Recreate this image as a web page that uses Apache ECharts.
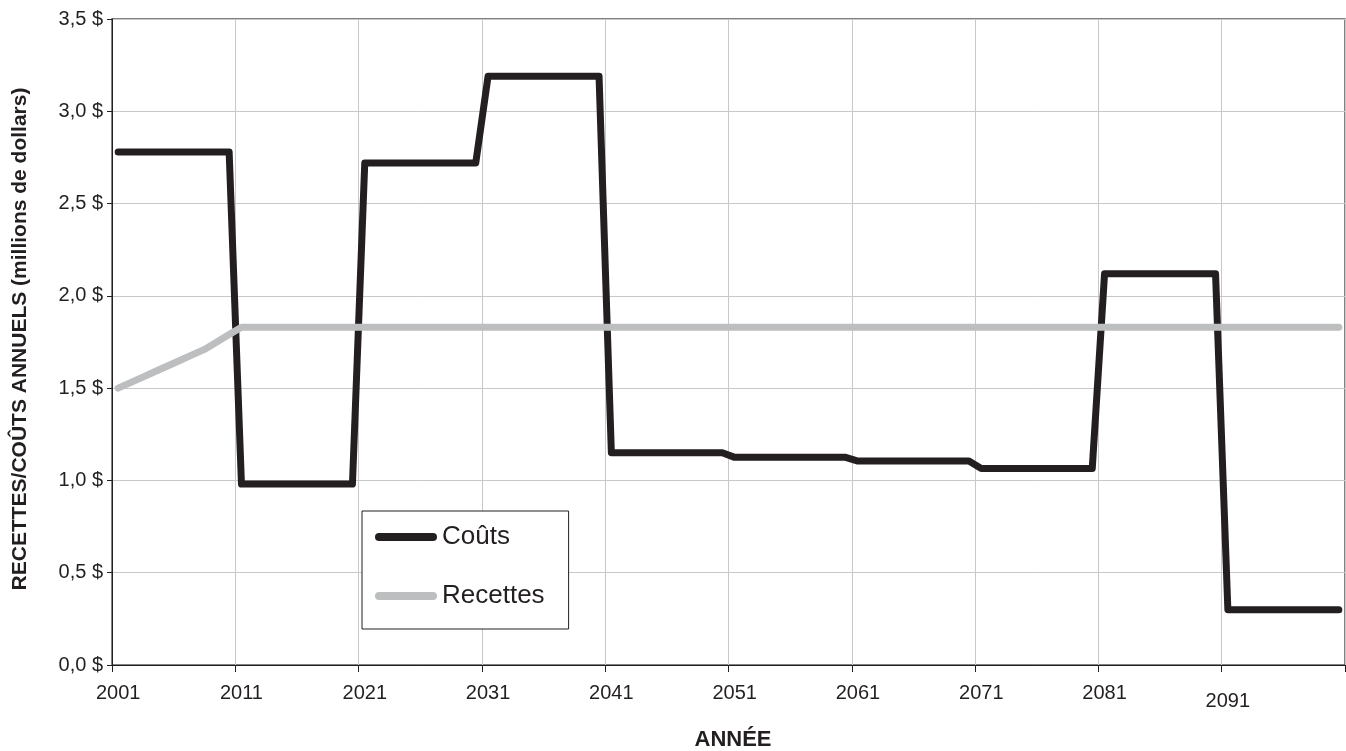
<!DOCTYPE html>
<html><head><meta charset="utf-8">
<script src="https://cdn.jsdelivr.net/npm/echarts@6/dist/echarts.min.js"></script>
<style>html,body{margin:0;padding:0;background:#fff}#c{width:1346px;height:751px}</style>
</head><body><div id="c"></div>
<script>
const years = [
'2001','2002','2003','2004','2005','2006','2007','2008','2009','2010',
'2011','2012','2013','2014','2015','2016','2017','2018','2019','2020',
'2021','2022','2023','2024','2025','2026','2027','2028','2029','2030',
'2031','2032','2033','2034','2035','2036','2037','2038','2039','2040',
'2041','2042','2043','2044','2045','2046','2047','2048','2049','2050',
'2051','2052','2053','2054','2055','2056','2057','2058','2059','2060',
'2061','2062','2063','2064','2065','2066','2067','2068','2069','2070',
'2071','2072','2073','2074','2075','2076','2077','2078','2079','2080',
'2081','2082','2083','2084','2085','2086','2087','2088','2089','2090',
'2091','2092','2093','2094','2095','2096','2097','2098','2099','2100'];

const couts = [
2.78,2.78,2.78,2.78,2.78,2.78,2.78,2.78,2.78,2.78,
0.98,0.98,0.98,0.98,0.98,0.98,0.98,0.98,0.98,0.98,
2.72,2.72,2.72,2.72,2.72,2.72,2.72,2.72,2.72,2.72,
3.19,3.19,3.19,3.19,3.19,3.19,3.19,3.19,3.19,3.19,
1.15,1.15,1.15,1.15,1.15,1.15,1.15,1.15,1.15,1.15,
1.125,1.125,1.125,1.125,1.125,1.125,1.125,1.125,1.125,1.125,
1.105,1.105,1.105,1.105,1.105,1.105,1.105,1.105,1.105,1.105,
1.065,1.065,1.065,1.065,1.065,1.065,1.065,1.065,1.065,1.065,
2.12,2.12,2.12,2.12,2.12,2.12,2.12,2.12,2.12,2.12,
0.30,0.30,0.30,0.30,0.30,0.30,0.30,0.30,0.30,0.30];

const recettes = [
1.50,1.53,1.56,1.59,1.62,1.65,1.68,1.71,1.75,1.79,
1.83,1.83,1.83,1.83,1.83,1.83,1.83,1.83,1.83,1.83,
1.83,1.83,1.83,1.83,1.83,1.83,1.83,1.83,1.83,1.83,
1.83,1.83,1.83,1.83,1.83,1.83,1.83,1.83,1.83,1.83,
1.83,1.83,1.83,1.83,1.83,1.83,1.83,1.83,1.83,1.83,
1.83,1.83,1.83,1.83,1.83,1.83,1.83,1.83,1.83,1.83,
1.83,1.83,1.83,1.83,1.83,1.83,1.83,1.83,1.83,1.83,
1.83,1.83,1.83,1.83,1.83,1.83,1.83,1.83,1.83,1.83,
1.83,1.83,1.83,1.83,1.83,1.83,1.83,1.83,1.83,1.83,
1.83,1.83,1.83,1.83,1.83,1.83,1.83,1.83,1.83,1.83];

const seriesNames = ['Coûts', 'Recettes'];
const yTitle = 'RECETTES/COÛTS ANNUELS (millions de dollars)';
const xTitle = 'ANNÉE';

const DARK = '#231f20', GRAY = '#bcbec0', GRID = '#c8c8c8';
const FONT = '"Liberation Sans", Arial, Helvetica, sans-serif';
const pill = 'path://M4,0H58A4,4,0,0,1,58,8H4A4,4,0,0,1,4,0Z';

const chart = echarts.init(document.getElementById('c'));
chart.setOption({
  animation: false,
  backgroundColor: '#fff',
  textStyle: { fontFamily: FONT },
  grid: { left: 112, right: 1, top: 19, bottom: 86, show: true, borderColor: '#5a5a5a', borderWidth: 1.5, backgroundColor: 'transparent' },
  xAxis: {
    type: 'category', data: years, boundaryGap: true,
    axisLine: { lineStyle: { color: DARK, width: 1 } },
    axisTick: { show: true, interval: 9, length: 7, lineStyle: { color: DARK } },
    axisLabel: {
      interval: 9, fontSize: 20, color: DARK, margin: 18, fontFamily: FONT,
      formatter: v => v === '2091' ? '{low|' + v + '}' : v,
      rich: { low: { fontSize: 20, color: DARK, fontFamily: FONT, padding: [8, 0, 0, 0] } }
    },
    splitLine: { show: true, interval: 9, lineStyle: { color: GRID, width: 1 } }
  },
  yAxis: {
    type: 'value', min: 0, max: 3.5, interval: 0.5,
    axisLine: { show: true, lineStyle: { color: DARK, width: 1 } },
    axisTick: { show: true, length: 5, lineStyle: { color: DARK } },
    axisLabel: { fontSize: 20, color: DARK, margin: 9, fontFamily: FONT,
      formatter: v => v.toFixed(1).replace('.', ',') + ' $' },
    splitLine: { show: true, lineStyle: { color: GRID, width: 1 } }
  },
  legend: {
    orient: 'vertical', left: 362, top: 511,
    data: seriesNames.map(n => ({ name: n, icon: pill })),
    itemWidth: 62, itemHeight: 8, itemGap: 29,
    padding: [11, 24, 18, 13],
    backgroundColor: '#fff', borderColor: DARK, borderWidth: 1, borderRadius: 0,
    textStyle: { fontSize: 26, lineHeight: 30, color: DARK, fontFamily: FONT }
  },
  series: [
    { name: seriesNames[0], type: 'line', data: couts, color: DARK, showSymbol: false, symbol: 'none',
      lineStyle: { color: DARK, width: 7, cap: 'round', join: 'round' } },
    { name: seriesNames[1], type: 'line', data: recettes, color: GRAY, showSymbol: false, symbol: 'none',
      lineStyle: { color: GRAY, width: 7, cap: 'round', join: 'round' } }
  ],
  graphic: [
    { type: 'text', x: 20, y: 339, rotation: Math.PI / 2,
      style: { text: yTitle, font: 'bold 21px ' + FONT, fill: DARK, align: 'center', verticalAlign: 'middle', textAlign: 'center', textVerticalAlign: 'middle' } },
    { type: 'text', x: 733, y: 740,
      style: { text: xTitle, font: 'bold 22px ' + FONT, fill: DARK, align: 'center', verticalAlign: 'middle', textAlign: 'center', textVerticalAlign: 'middle' } }
  ]
});
</script></body></html>
